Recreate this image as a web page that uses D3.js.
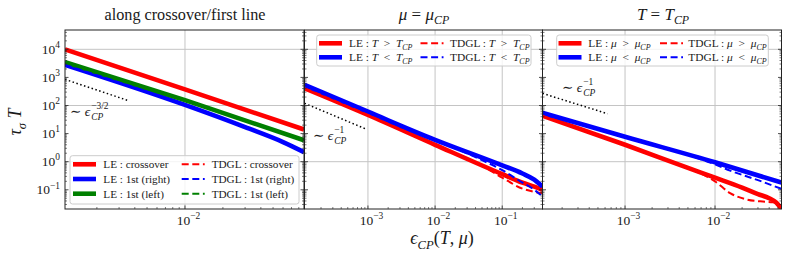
<!DOCTYPE html>
<html><head><meta charset="utf-8">
<script src="https://cdn.jsdelivr.net/npm/d3@7"></script>
<style>
body{margin:0;background:#fff}
svg{display:block}
text{font-family:"Liberation Serif","DejaVu Serif",serif;fill:#1a1a1a;white-space:pre}
</style>
</head><body>
<svg id="c" width="789" height="259"></svg>
<script>
// ---------------- data ----------------
const yTickExps = [-1, 0, 1, 2, 3, 4];
const yGridExps = [0, 2, 4];
const p1TickExps = [-2];
const p2TickExps = [-3, -2, -1];
const p3TickExps = [-3, -2];

const yDomain = [2.07e-2, 4.87e4];
const p1Domain = [1.117e-3, 0.088];
const p2Domain = [1.135e-4, 0.398];
const p3Domain = [1.21e-4, 0.0548];

const panelTitles = ["along crossover/first line", "μ = μ_CP", "T = T_CP"];
const guideExponents = ["−3/2", "−1", "−1"];

// panel 1 : along crossover / first line
const p1CrossLE   = [[1.117e-3, 1.0e4], [1e-2, 373], [0.088, 14]];
const p1RightLE   = [[1.117e-3, 2800], [1e-2, 105], [0.03, 17], [0.06, 5.0], [0.088, 2.2]];
const p1LeftLE    = [[1.117e-3, 3500], [1e-2, 155], [0.088, 5.8]];
const p1CrossTDGL = [[1.117e-3, 1.0e4], [1e-2, 373], [0.088, 14]];
const p1RightTDGL = [[1.117e-3, 2800], [1e-2, 105], [0.03, 17], [0.06, 5.0], [0.088, 2.2]];
const p1LeftTDGL  = [[1.117e-3, 3500], [1e-2, 155], [0.088, 5.8]];
const p1Guide     = [[1.117e-3, 850], [3.5e-3, 153]];

// panel 2 : mu = mu_CP
const p2AboveLE   = [[1.135e-4, 410], [1e-3, 46], [1e-2, 4.0], [0.1, 0.36], [0.2, 0.18], [0.3, 0.13], [0.398, 0.1]];
const p2BelowLE   = [[1.135e-4, 540], [1e-3, 60], [1e-2, 6.0], [0.1, 0.74], [0.2, 0.38], [0.3, 0.23], [0.398, 0.13]];
const p2AboveTDGL = [[1.135e-4, 410], [1e-3, 46], [1e-2, 4.0], [0.05, 0.72], [0.1, 0.27], [0.2, 0.11], [0.3, 0.085], [0.398, 0.076]];
const p2BelowTDGL = [[1.135e-4, 540], [1e-3, 60], [1e-2, 6.0], [0.04, 1.45], [0.1, 0.5], [0.2, 0.18], [0.3, 0.1], [0.398, 0.058]];
const p2Guide     = [[1.135e-4, 120], [9.5e-4, 14.3]];

// panel 3 : T = T_CP
const p3AboveLE   = [[1.21e-4, 43], [1e-3, 4.0], [5e-3, 0.6], [1e-2, 0.27], [0.02, 0.12], [0.03, 0.07], [0.04, 0.05], [0.048, 0.035], [0.052, 0.026], [0.0548, 0.02]];
const p3BelowLE   = [[1.21e-4, 55], [1e-3, 7.7], [1e-2, 0.95], [0.0548, 0.18]];
const p3AboveTDGL = [[1.21e-4, 43], [1e-3, 4.0], [4.5e-3, 0.68], [6.5e-3, 0.42], [1e-2, 0.2], [0.0147, 0.076], [0.022, 0.046], [0.034, 0.038], [0.044, 0.036], [0.05, 0.032], [0.0548, 0.025]];
const p3BelowTDGL = [[1.21e-4, 55], [1e-3, 7.7], [5e-3, 1.75], [1e-2, 0.8], [0.0147, 0.48], [0.03, 0.22], [0.0548, 0.108]];
const p3Guide     = [[1.21e-4, 270], [6.4e-4, 51]];

// ---------------- layout ----------------
const svg = d3.select("#c");
const yTop = 30, yBot = 209;
const panels = [
  {x0: 65, x1: 304, dom: p1Domain, ticks: p1TickExps},
  {x0: 304.5, x1: 542.5, dom: p2Domain, ticks: p2TickExps},
  {x0: 542.5, x1: 781.5, dom: p3Domain, ticks: p3TickExps}
];
const y = d3.scaleLog().domain(yDomain).range([yBot, yTop]);
panels.forEach(p => { p.x = d3.scaleLog().domain(p.dom).range([p.x0, p.x1]); });

const RED = "#ff0000", BLUE = "#0000ff", GREEN = "#008000";

function rich(parent, x, yy, segs, size, anchor) {
  const t = parent.append("text").attr("x", x).attr("y", yy)
    .attr("font-size", size).attr("text-anchor", anchor || "start");
  let cur = 0;
  segs.forEach(s => {
    const sc = s.s ? 0.7 : 1;
    const target = s.s === "sub" ? 0.25 * size : s.s === "sup" ? -0.42 * size : 0;
    const ts = t.append("tspan").text(s.t).attr("dy", target - cur).attr("font-size", size * sc);
    if (s.i) ts.attr("font-style", "italic");
    cur = target;
  });
  return t;
}

// "~ eps_CP^{sup}" as one text: superscript first, then subscript stepped back under it
function guideLabel(parent, x, yy, sup, size) {
  const t = parent.append("text").attr("x", x).attr("y", yy).attr("font-size", size);
  t.append("tspan").text("∼ ");
  t.append("tspan").text("ϵ").attr("font-style", "italic");
  const s1 = t.append("tspan").text(sup).attr("font-size", size * 0.7).attr("dy", -0.5 * size).attr("dx", 1);
  const w = s1.node().getComputedTextLength();
  t.append("tspan").text("CP").attr("font-size", size * 0.7).attr("font-style", "italic")
    .attr("dy", 0.78 * size).attr("dx", -w);
  return t;
}

const defs = svg.append("defs");
panels.forEach((p, i) => {
  defs.append("clipPath").attr("id", "clip" + i).append("rect")
    .attr("x", p.x0).attr("y", yTop).attr("width", p.x1 - p.x0).attr("height", yBot - yTop);
});

// grid
panels.forEach((p, i) => {
  const g = svg.append("g").attr("clip-path", `url(#clip${i})`);
  yGridExps.forEach(e => g.append("line").attr("x1", p.x0).attr("x2", p.x1)
    .attr("y1", y(10 ** e)).attr("y2", y(10 ** e)).attr("stroke", "#c4c4c4").attr("stroke-width", 1));
  p.ticks.forEach(e => g.append("line").attr("x1", p.x(10 ** e)).attr("x2", p.x(10 ** e))
    .attr("y1", yTop).attr("y2", yBot).attr("stroke", "#c4c4c4").attr("stroke-width", 1));
});

// series
const seriesByPanel = [
  [
    {d: p1CrossLE, c: RED, dash: false}, {d: p1RightLE, c: BLUE, dash: false}, {d: p1LeftLE, c: GREEN, dash: false},
    {d: p1CrossTDGL, c: RED, dash: true}, {d: p1RightTDGL, c: BLUE, dash: true}, {d: p1LeftTDGL, c: GREEN, dash: true}
  ],
  [
    {d: p2AboveLE, c: RED, dash: false}, {d: p2BelowLE, c: BLUE, dash: false},
    {d: p2AboveTDGL, c: RED, dash: true}, {d: p2BelowTDGL, c: BLUE, dash: true}
  ],
  [
    {d: p3AboveLE, c: RED, dash: false}, {d: p3BelowLE, c: BLUE, dash: false},
    {d: p3AboveTDGL, c: RED, dash: true}, {d: p3BelowTDGL, c: BLUE, dash: true}
  ]
];
const guides = [p1Guide, p2Guide, p3Guide];

panels.forEach((p, i) => {
  const g = svg.append("g").attr("clip-path", `url(#clip${i})`);
  const line = d3.line().x(d => p.x(d[0])).y(d => y(d[1])).curve(d3.curveMonotoneX);
  seriesByPanel[i].forEach(s => {
    g.append("path").attr("d", line(s.d)).attr("fill", "none").attr("stroke", s.c)
      .attr("stroke-width", s.dash ? 2 : 4.6)
      .attr("stroke-dasharray", s.dash ? "7,3.6" : null)
      .attr("stroke-linecap", "butt");
  });
  g.append("path").attr("d", d3.line().x(d => p.x(d[0])).y(d => y(d[1]))(guides[i]))
    .attr("fill", "none").attr("stroke", "#000").attr("stroke-width", 1.5).attr("stroke-dasharray", "1.5,2.5");
});

// guide annotations
const annG = svg.append("g");
guideLabel(annG, 70, 116, guideExponents[0], 13.5);
guideLabel(annG, 313, 140, guideExponents[1], 13.5);
guideLabel(annG, 562, 92, guideExponents[2], 13.5);

// legends
function legend(x0, y0, w, h, rows, cols, fs) {
  const g = svg.append("g");
  g.append("rect").attr("x", x0).attr("y", y0).attr("width", w).attr("height", h).attr("rx", 2.5)
    .attr("fill", "#fff").attr("fill-opacity", 0.8).attr("stroke", "#cccccc").attr("stroke-width", 1);
  cols.forEach(col => {
    col.items.forEach((it, r) => {
      const yy = rows[r];
      g.append("line").attr("x1", col.hx).attr("x2", col.hx + 23).attr("y1", yy).attr("y2", yy)
        .attr("stroke", it.c).attr("stroke-width", col.dash ? 2 : 4.6)
        .attr("stroke-dasharray", col.dash ? "7,3.6" : null);
      rich(g, col.tx, yy + 3.8, it.label, fs);
    });
  });
}
legend(70, 155.7, 229, 48.3, [164.3, 179, 193.7], [
  {hx: 73, tx: 103.3, dash: false, items: [
    {c: RED, label: [{t: "LE : crossover"}]}, {c: BLUE, label: [{t: "LE : 1st (right)"}]}, {c: GREEN, label: [{t: "LE : 1st (left)"}]}]},
  {hx: 181.7, tx: 211.7, dash: true, items: [
    {c: RED, label: [{t: "TDGL : crossover"}]}, {c: BLUE, label: [{t: "TDGL : 1st (right)"}]}, {c: GREEN, label: [{t: "TDGL : 1st (left)"}]}]}
], 11.2);
const lblT = (pre, rel) => [{t: pre + " : "}, {t: "T", i: 1}, {t: "\u2002" + rel + "\u2002"}, {t: "T", i: 1}, {t: "CP", i: 1, s: "sub"}];
const lblM = (pre, rel) => [{t: pre + " : "}, {t: "μ", i: 1}, {t: "\u2002" + rel + "\u2002"}, {t: "μ", i: 1}, {t: "CP", i: 1, s: "sub"}];
legend(316.7, 35, 214.3, 31, [43.3, 57.3], [
  {hx: 319, tx: 349, dash: false, items: [{c: RED, label: lblT("LE", ">")}, {c: BLUE, label: lblT("LE", "<")}]},
  {hx: 420.5, tx: 450, dash: true, items: [{c: RED, label: lblT("TDGL", ">")}, {c: BLUE, label: lblT("TDGL", "<")}]}
], 11.4);
legend(556.7, 35, 211.6, 31, [43.3, 57.3], [
  {hx: 558.5, tx: 588.3, dash: false, items: [{c: RED, label: lblM("LE", ">")}, {c: BLUE, label: lblM("LE", "<")}]},
  {hx: 660, tx: 688.3, dash: true, items: [{c: RED, label: lblM("TDGL", ">")}, {c: BLUE, label: lblM("TDGL", "<")}]}
], 11.4);

// spines and ticks
const axG = svg.append("g");
const yMinor = [];
for (let e = -2; e <= 4; e++) for (let m = 2; m <= 9; m++) { const v = m * 10 ** e; if (v > yDomain[0] && v < yDomain[1]) yMinor.push(v); }
panels.forEach((p, i) => {
  const yMaj = yTickExps.map(e => 10 ** e);
  [[p.x0, 1], [p.x1, -1]].forEach(([xx, dir]) => {
    yMaj.forEach(v => axG.append("line").attr("x1", xx).attr("x2", xx + dir * 3.5).attr("y1", y(v)).attr("y2", y(v)).attr("stroke", "#222").attr("stroke-width", 0.8));
    yMinor.forEach(v => axG.append("line").attr("x1", xx).attr("x2", xx + dir * 2).attr("y1", y(v)).attr("y2", y(v)).attr("stroke", "#222").attr("stroke-width", 0.6));
  });
  const [a, b] = p.dom;
  for (let e = Math.floor(Math.log10(a)); e <= Math.ceil(Math.log10(b)); e++) {
    for (let m = 1; m <= 9; m++) {
      const v = m * 10 ** e;
      if (v < a || v > b) continue;
      const L = m === 1 ? 3.5 : 2;
      axG.append("line").attr("x1", p.x(v)).attr("x2", p.x(v)).attr("y1", yBot).attr("y2", yBot - L)
        .attr("stroke", "#222").attr("stroke-width", m === 1 ? 0.8 : 0.6);
    }
  }
  p.ticks.forEach(e => rich(axG, p.x(10 ** e) + 3.5, 225, [{t: "10"}, {t: "−" + Math.abs(e), s: "sup"}], 13.5, "middle"));
  axG.append("rect").attr("x", p.x0).attr("y", yTop).attr("width", p.x1 - p.x0).attr("height", yBot - yTop)
    .attr("fill", "none").attr("stroke", "#222").attr("stroke-width", 1);
});
yTickExps.forEach(e => rich(axG, 60, y(10 ** e) + 4.4, [{t: "10"}, {t: (e < 0 ? "−" : "") + Math.abs(e), s: "sup"}], 13.5, "end"));

// titles
rich(axG, 185, 20, [{t: panelTitles[0]}], 16.2, "middle");
rich(axG, 424, 20, [{t: "μ", i: 1}, {t: " = "}, {t: "μ", i: 1}, {t: "CP", i: 1, s: "sub"}], 17, "middle");
rich(axG, 663, 20, [{t: "T", i: 1}, {t: " = "}, {t: "T", i: 1}, {t: "CP", i: 1, s: "sub"}], 17, "middle");

// axis labels
rich(axG, 442, 244, [{t: "ϵ", i: 1}, {t: "CP", i: 1, s: "sub"}, {t: "("}, {t: "T", i: 1}, {t: ", "}, {t: "μ", i: 1}, {t: ")"}], 18, "middle");
const yl = rich(axG, 0, 0, [{t: "τ", i: 1}, {t: "σ", i: 1, s: "sub"}, {t: " "}, {t: "T", i: 1}], 18, "middle");
yl.attr("transform", "translate(21,122) rotate(-90)");
</script>
</body></html>
